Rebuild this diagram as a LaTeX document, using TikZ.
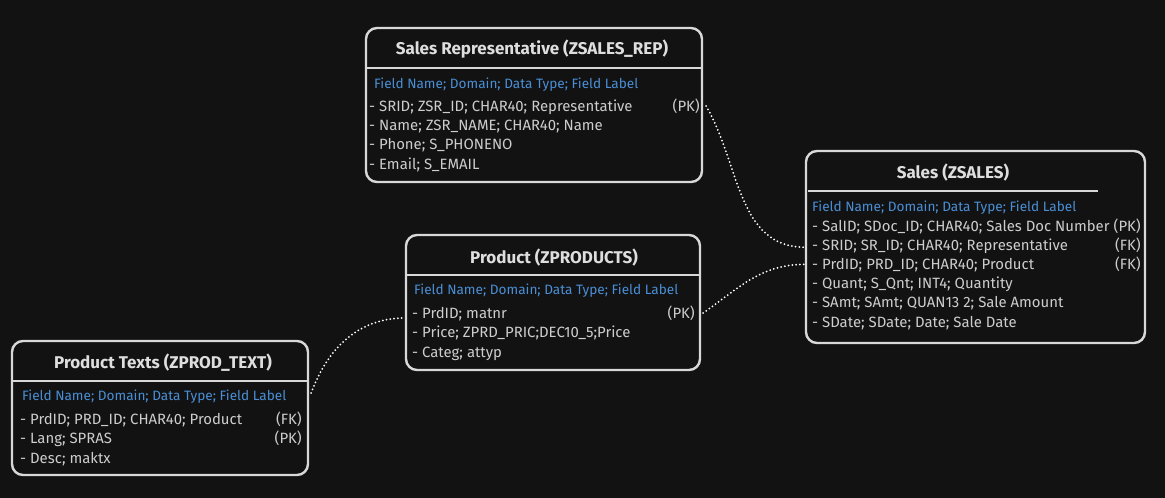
\documentclass[tikz,border=0pt]{standalone}
\usepackage{fontspec}
\setmainfont{Fira Sans}
\definecolor{bg}{HTML}{121212}
\definecolor{edge}{HTML}{D8D8D8}
\definecolor{ttlgray}{HTML}{DEDEDE}
\definecolor{rowgray}{HTML}{CDCDCD}
\definecolor{fieldblue}{HTML}{4A8FD6}
\tikzset{
  tbl/.style={draw=edge, line width=2.4pt, rounded corners=11pt, inner sep=0pt},
  sep/.style={draw=edge, line width=2.4pt},
  ttl/.style={text=ttlgray, inner sep=0pt, text height=12pt, text depth=0pt,
    font=\bfseries\fontsize{17}{20}\selectfont},
  fld/.style={anchor=west, text=fieldblue, inner sep=0pt, text height=9.4pt, text depth=0pt,
    font=\fontsize{13.6}{16}\selectfont},
  row/.style={anchor=west, text=rowgray, inner sep=0pt, text height=10.2pt, text depth=0pt,
    font=\fontsize{14.9}{17}\selectfont},
  keyfld/.style={row, anchor=east},
  rel/.style={draw=white, line width=2pt, line cap=round, dash pattern=on 0pt off 3.8pt}
}
\begin{document}
\begin{tikzpicture}[x=1pt,y=-1pt]
  \fill[bg] (0,0) rectangle (1165,498);
  % Sales Representative
  \node[tbl, minimum width=336pt, minimum height=154pt] (srep) at (534,105) {};
  \node[ttl] (srep-t) at (532,48) {Sales Representative (ZSALES\_REP)};
  \draw[sep] (366,68) -- (702,68);
  \node[fld] (srep-f) at (374,84) {Field Name; Domain; Data Type; Field Label};
  \foreach \txt [count=\i] in {{- SRID; ZSR\_ID; CHAR40; Representative},
      {- Name; ZSR\_NAME; CHAR40; Name},{- Phone; S\_PHONENO},{- Email; S\_EMAIL}}
    \node[row] (srep-r\i) at (369,86.7+19.3*\i) {\txt};
  \node[keyfld] (srep-k1) at (700,106) {(PK)};
  % Sales
  \node[tbl, minimum width=339pt, minimum height=192pt] (sales) at (975.5,247) {};
  \node[ttl] (sales-t) at (953,172) {Sales (ZSALES)};
  \draw[sep] (808,191) -- (1098,191);
  \node[fld] (sales-f) at (812,207) {Field Name; Domain; Data Type; Field Label};
  \foreach \txt [count=\i] in {{- SalID; SDoc\_ID; CHAR40; Sales Doc Number},
      {- SRID; SR\_ID; CHAR40; Representative},{- PrdID; PRD\_ID; CHAR40; Product},
      {- Quant; S\_Qnt; INT4; Quantity},{- SAmt; SAmt; QUAN13 2; Sale Amount},
      {- SDate; SDate; Date; Sale Date}}
    \node[row] (sales-r\i) at (812,206.8+19.2*\i) {\txt};
  \node[keyfld] (sales-k1) at (1141,226) {(PK)};
  \node[keyfld] (sales-k2) at (1141,245.2) {(FK)};
  \node[keyfld] (sales-k3) at (1141,264.4) {(FK)};
  % Product
  \node[tbl, minimum width=294pt, minimum height=135pt] (prod) at (553,302.5) {};
  \node[ttl] (prod-t) at (554,257) {Product (ZPRODUCTS)};
  \draw[sep] (406,275) -- (700,275);
  \node[fld] (prod-f) at (414,290) {Field Name; Domain; Data Type; Field Label};
  \foreach \txt [count=\i] in {{- PrdID; matnr},{- Price; ZPRD\_PRIC;DEC10\_5;Price},
      {- Categ; attyp}}
    \node[row] (prod-r\i) at (412,293.5+19.5*\i) {\txt};
  \node[keyfld] (prod-k1) at (695,313) {(PK)};
  % Product Texts
  \node[tbl, minimum width=296pt, minimum height=134pt] (ptxt) at (160,408) {};
  \node[ttl] (ptxt-t) at (163,362) {Product Texts (ZPROD\_TEXT)};
  \draw[sep] (12,381) -- (308,381);
  \node[fld] (ptxt-f) at (22,396) {Field Name; Domain; Data Type; Field Label};
  \foreach \txt [count=\i] in {{- PrdID; PRD\_ID; CHAR40; Product},{- Lang; SPRAS},
      {- Desc; maktx}}
    \node[row] (ptxt-r\i) at (20,399.5+19.5*\i) {\txt};
  \node[keyfld] (ptxt-k1) at (302,419) {(FK)};
  \node[keyfld] (ptxt-k2) at (302,438.5) {(PK)};
  % relations
  \draw[rel] ([xshift=3pt]srep.east |- srep-r1) to[out=-60,in=180] ([yshift=-2pt]sales.west |- sales-r2);
  \draw[rel] ([xshift=2pt]prod.east |- prod-r1) to[out=35,in=180] (sales.west |- sales-r3);
  \draw[rel] ([xshift=2pt,yshift=3pt]ptxt.east |- ptxt-f) to[out=70,in=180] ([yshift=-5pt]prod.west |- prod-r1);
\end{tikzpicture}
\end{document}
